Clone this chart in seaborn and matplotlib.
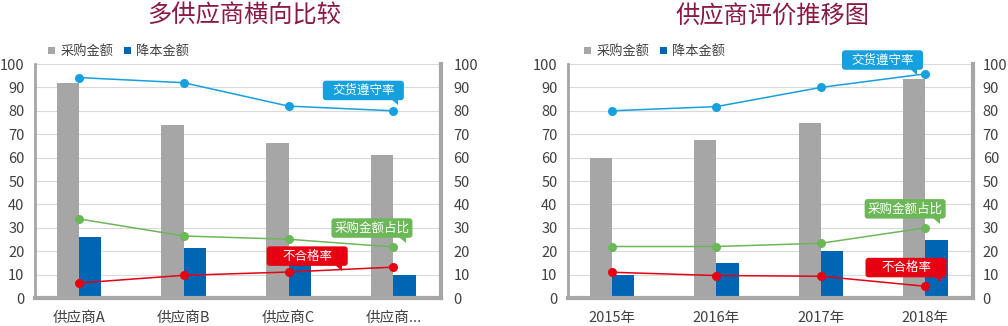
import numpy as np
import pandas as pd
import matplotlib
matplotlib.use("Agg")
import matplotlib.pyplot as plt
import matplotlib.transforms as mtrans
from matplotlib.patches import FancyBboxPatch, Polygon
import seaborn as sns

# ---------------- data ----------------
left_categories = ["供应商A", "供应商B", "供应商C", "供应商..."]
left_purchase = [92, 74, 66.4, 61]          # 采购金额
left_reduction = [26, 21.5, 14, 10]         # 降本金额
left_delivery = [94.2, 92, 82, 80]          # 交货遵守率
left_share = [33.8, 26.5, 25.1, 21.8]       # 采购金额占比
left_defect = [6.4, 9.7, 11.1, 13.2]        # 不合格率

right_categories = ["2015年", "2016年", "2017年", "2018年"]
right_purchase = [60, 67.7, 75, 93.6]
right_reduction = [10, 15, 20, 25]
right_delivery = [80, 81.8, 90, 95.8]
right_share = [22, 22, 23.4, 30]
right_defect = [11, 9.6, 9.3, 5]

bar_series = ["采购金额", "降本金额"]
line_series = ["交货遵守率", "采购金额占比", "不合格率"]
titles = ["多供应商横向比较", "供应商评价推移图"]
y_ticks = [0, 10, 20, 30, 40, 50, 60, 70, 80, 90, 100]

# ---------------- style ----------------
sns.set_theme(style="white")
plt.rcParams["font.family"] = ["Noto Sans CJK SC", "DejaVu Sans"]

GRAY = "#a6a6a6"
BLUE_BAR = "#0066b3"
LINE_COLORS = ["#15a0e0", "#6cb858", "#e60012"]
TITLE_C = "#8b1a42"
TXT = "#404040"

fig = plt.figure(figsize=(10.08, 3.26), dpi=100)

ax_specs = [
    dict(rect=[35 / 1008, 1 - 298 / 326, 406 / 1008, 234 / 326], title_x=244 / 1008,
         leg_x=0.031, rpad=9,
         callouts=[(2.714, 88.7, 0), (2.796, 29.9, 1), (2.178, 17.9, 2)]),
    dict(rect=[568 / 1008, 1 - 298 / 326, 405 / 1008, 234 / 326], title_x=772 / 1008,
         leg_x=0.039, rpad=7,
         callouts=[(2.589, 101.7, 0), (2.806, 38.1, 1), (2.814, 13.0, 2)]),
]

datasets = [
    (left_categories, left_purchase, left_reduction, [left_delivery, left_share, left_defect]),
    (right_categories, right_purchase, right_reduction, [right_delivery, right_share, right_defect]),
]


def callout(ax, x, y, text, color):
    w, h = 0.81, 0.195
    tr = fig.dpi_scale_trans + mtrans.ScaledTranslation(x, y, ax.transData)
    box = FancyBboxPatch((-w / 2, -h / 2), w, h,
                         boxstyle="round,pad=0,rounding_size=0.03",
                         transform=tr, facecolor=color, edgecolor="none",
                         zorder=10, clip_on=False)
    ax.add_patch(box)
    tail = Polygon([(w / 2 - 0.13, -h / 2 + 0.01), (w / 2 - 0.06, -h / 2 + 0.01),
                    (w / 2 - 0.06, -h / 2 - 0.05)], closed=True,
                   transform=tr, facecolor=color, edgecolor="none",
                   zorder=10, clip_on=False)
    ax.add_patch(tail)
    ax.text(x, y, text, color="white", fontsize=9, ha="center", va="center",
            zorder=11, clip_on=False)


for spec, (cats, purchase, reduction, lines), title in zip(ax_specs, datasets, titles):
    ax = fig.add_axes(spec["rect"])
    df = pd.DataFrame({
        "cat": cats * 2,
        "series": [bar_series[0]] * len(cats) + [bar_series[1]] * len(cats),
        "value": list(purchase) + list(reduction),
    })
    sns.barplot(data=df, x="cat", y="value", hue="series",
                palette=[GRAY, BLUE_BAR], width=0.426, linewidth=0,
                saturation=1, ax=ax, zorder=2)
    ax.set_ylim(0, 100)
    ax.set_xlim(-0.42, 3.455)
    ax.set_yticks(y_ticks)
    ax.set_xlabel("")
    ax.set_ylabel("")
    ax.grid(axis="y", color="#d9d9d9", linewidth=0.8, zorder=0)
    ax.set_axisbelow(True)
    for s in ["top", "right"]:
        ax.spines[s].set_visible(False)
    ax.spines["left"].set_color(GRAY)
    ax.spines["left"].set_linewidth(2)
    ax.spines["bottom"].set_color(GRAY)
    ax.spines["bottom"].set_linewidth(3)
    ax.tick_params(axis="y", length=0, pad=7.5, labelsize=10.5, labelcolor=TXT)
    ax.tick_params(axis="x", length=0, pad=9.5, labelsize=10.5, labelcolor=TXT)

    sns.move_legend(ax, loc="center left", bbox_to_anchor=(spec["leg_x"], 1.0526),
                    ncol=2, frameon=False, title=None, fontsize=9.5,
                    handlelength=0.55, handleheight=0.55, handletextpad=0.4,
                    columnspacing=0.8, borderpad=0, borderaxespad=0)
    for t in ax.get_legend().get_texts():
        t.set_color(TXT)

    ax2 = ax.twinx()
    xs = np.arange(len(cats))
    for vals, color in zip(lines, LINE_COLORS):
        sns.lineplot(x=xs, y=vals, color=color, linewidth=1.1, marker="o",
                     markersize=6.5, markeredgewidth=0, ax=ax2, zorder=5)
    ax2.set_ylim(0, 100)
    ax2.set_xlim(-0.42, 3.455)
    ax2.set_yticks(y_ticks)
    ax2.set_ylabel("")
    for s in ["top", "left", "bottom"]:
        ax2.spines[s].set_visible(False)
    ax2.spines["right"].set_color(GRAY)
    ax2.spines["right"].set_linewidth(3)
    ax2.tick_params(axis="y", length=0, pad=spec["rpad"], labelsize=10.5, labelcolor=TXT)

    for (cx, cy, i) in spec["callouts"]:
        callout(ax2, cx, cy, line_series[i], LINE_COLORS[i])

    fig.text(spec["title_x"], 1 - 16 / 326, title, color=TITLE_C, fontsize=17.5,
             ha="center", va="center")

fig.savefig("out.png", dpi=100)
